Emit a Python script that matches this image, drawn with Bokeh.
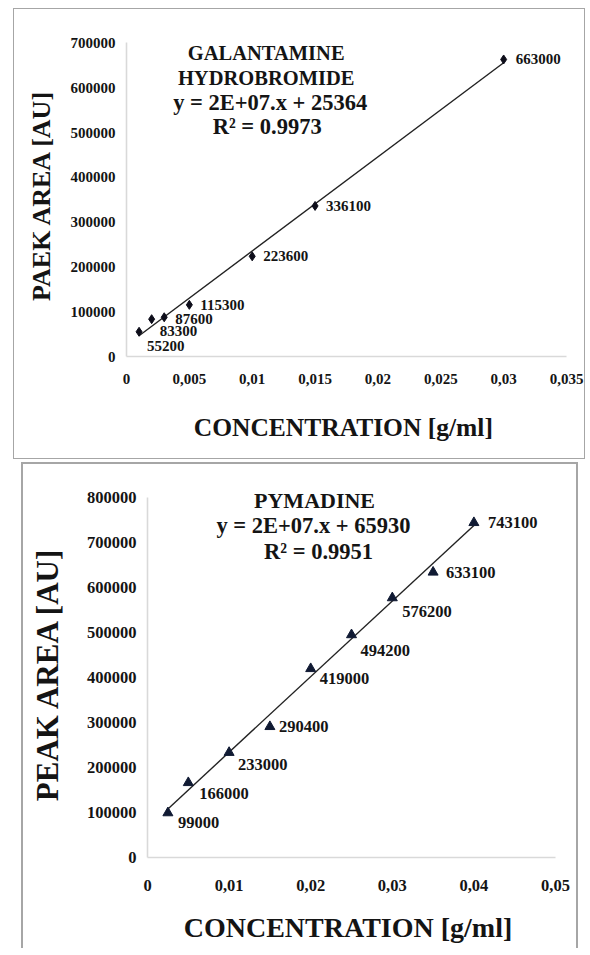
import numpy as np
from bokeh.plotting import figure
from bokeh.models import ColumnDataSource, Range1d, FixedTicker, Label
from bokeh.embed import file_html
from bokeh.resources import INLINE
from bokeh.core.properties import value

# ---------------- data: Galantamine hydrobromide ----------------
gal_conc = [0.001, 0.002, 0.003, 0.005, 0.01, 0.015, 0.03]
gal_area = [55200, 83300, 87600, 115300, 223600, 336100, 663000]
gal_x_ticks = [0, 0.005, 0.01, 0.015, 0.02, 0.025, 0.03, 0.035]
gal_x_tick_labels = ["0", "0,005", "0,01", "0,015", "0,02", "0,025", "0,03", "0,035"]
gal_y_ticks = [0, 100000, 200000, 300000, 400000, 500000, 600000, 700000]
gal_y_tick_labels = ["0", "100000", "200000", "300000", "400000", "500000", "600000", "700000"]
gal_title = ["GALANTAMINE", "HYDROBROMIDE"]
gal_equation = "y = 2E+07.x + 25364"
gal_r2 = "R² = 0.9973"

# ---------------- data: Pymadine ----------------
pym_conc = [0.0025, 0.005, 0.01, 0.015, 0.02, 0.025, 0.03, 0.035, 0.04]
pym_area = [99000, 166000, 233000, 290400, 419000, 494200, 576200, 633100, 743100]
pym_x_ticks = [0, 0.01, 0.02, 0.03, 0.04, 0.05]
pym_x_tick_labels = ["0", "0,01", "0,02", "0,03", "0,04", "0,05"]
pym_y_ticks = [0, 100000, 200000, 300000, 400000, 500000, 600000, 700000, 800000]
pym_y_tick_labels = ["0", "100000", "200000", "300000", "400000", "500000", "600000", "700000", "800000"]
pym_title = ["PYMADINE"]
pym_equation = "y = 2E+07.x + 65930"
pym_r2 = "R² = 0.9951"

# label offsets (style, screen px)
gal_dx = [8, 8, 11, 11, 11, 11, 12]
gal_dy = [14, 12, 2, 0, 0, 0, 0]
pym_dx = [10, 11, 9, 9, 9, 9, 10, 13, 14]
pym_dy = [10, 11, 12, 0, 10, 16, 14, 0, 0]

FONT = "Liberation Serif"
TXT = "#141414"


def make_plot(conc, area, xt, xtl, yt, ytl, xmax, ymax, yview, dx, dy, marker, msize, mcolor,
              width, height, borders, ylabel, title_lines, eq, r2, text_pos,
              tick_fs, lab_fs, axis_fs_x, axis_fs_y, title_fs, eq_fs,
              x_tick_std, x_std, y_std, margin, css):
    p = figure(width=width, height=height, output_backend="svg", toolbar_location=None,
               x_range=Range1d(0, xmax), y_range=Range1d(0, yview),
               min_border_left=borders[0], min_border_right=borders[1],
               min_border_top=borders[2], min_border_bottom=borders[3],
               margin=margin)
    p.styles = css
    p.outline_line_color = None
    p.grid.grid_line_color = None
    p.background_fill_color = "white"
    p.border_fill_color = "white"

    for ax in (p.xaxis[0], p.yaxis[0]):
        ax.axis_line_color = "#d9d9d9"
        ax.axis_line_width = 1.6
        ax.major_tick_line_color = None
        ax.minor_tick_line_color = None
        ax.major_tick_out = 0
        ax.major_tick_in = 0
        ax.minor_tick_out = 0
        ax.minor_tick_in = 0
        ax.major_label_text_font = FONT
        ax.major_label_text_font_style = "bold"
        ax.major_label_text_font_size = tick_fs
        ax.major_label_text_color = TXT
        ax.axis_label_text_font = FONT
        ax.axis_label_text_font_style = "bold"
        ax.axis_label_text_color = TXT

    p.xaxis.ticker = FixedTicker(ticks=xt)
    p.xaxis.major_label_overrides = {t: l for t, l in zip(xt, xtl)}
    p.yaxis.ticker = FixedTicker(ticks=yt)
    p.yaxis.major_label_overrides = {t: l for t, l in zip(yt, ytl)}
    p.yaxis.bounds = (0, ymax)
    p.xaxis.major_label_standoff = x_tick_std
    p.yaxis.major_label_standoff = 11
    p.xaxis.axis_label = "CONCENTRATION  [g/ml]"
    p.yaxis.axis_label = ylabel
    p.xaxis.axis_label_text_font_size = axis_fs_x
    p.yaxis.axis_label_text_font_size = axis_fs_y
    p.xaxis.axis_label_standoff = x_std
    p.yaxis.axis_label_standoff = y_std

    # linear trend line from the data
    slope, intercept = np.polyfit(conc, area, 1)
    lx = [min(conc), max(conc)]
    ly = [slope * v + intercept for v in lx]
    p.line(lx, ly, line_color="#222222", line_width=1.4)

    src = ColumnDataSource(dict(x=conc, y=area, t=[str(v) for v in area], dx=dx, dy=dy))
    p.scatter("x", "y", source=src, marker=marker, size=msize,
              fill_color=mcolor, line_color=mcolor)
    p.text("x", "y", text="t", source=src, x_offset="dx", y_offset="dy",
           text_font=value(FONT), text_font_style="bold", text_font_size=lab_fs,
           text_color=TXT, text_align="left", text_baseline="middle")

    lines = title_lines + [eq, r2]
    for i, s in enumerate(lines):
        x, y = text_pos[i]
        fs = title_fs if i < len(title_lines) else eq_fs
        p.add_layout(Label(x=x, y=y, text=s, text_font=FONT, text_font_style="bold",
                           text_font_size=fs, text_color=TXT,
                           text_align="center", text_baseline="middle"))
    return p


p1 = make_plot(gal_conc, gal_area, gal_x_ticks, gal_x_tick_labels, gal_y_ticks, gal_y_tick_labels,
               0.035, 700000, 750000, gal_dx, gal_dy, "diamond", 9, "#0d0d1a",
               572, 451, (112, 20, 11, 104), "PAEK  AREA  [AU]", gal_title, gal_equation, gal_r2,
               [(0.01111, 677700), (0.01111, 622000), (0.01143, 566200), (0.01119, 512700)],
               "15px", "15px", "25.5px", "26px", "20.5px", "22.5px", 17, 26, 12,
               (8, 0, 0, 13), {"border": "1.5px solid #a6a6a6"})

p2 = make_plot(pym_conc, pym_area, pym_x_ticks, pym_x_tick_labels, pym_y_ticks, pym_y_tick_labels,
               0.05, 800000, 850000, pym_dx, pym_dy, "triangle", 10, "#101a33",
               557, 486, (124, 25, 10, 93), "PEAK  AREA  [AU]", pym_title, pym_equation, pym_r2,
               [(0.02047, 793300), (0.02034, 737800), (0.02096, 680000)],
               "16.5px", "16.5px", "28px", "31px", "22px", "22.5px", 22, 18, 19,
               (3, 0, 0, 21), {"border-top": "2px solid #a6a6a6", "border-left": "2px solid #a6a6a6",
                               "border-right": "2px solid #a6a6a6"})

# two separate roots, so that the frames are not aligned to each other
open("out.html", "w").write(file_html([p1, p2], INLINE))
